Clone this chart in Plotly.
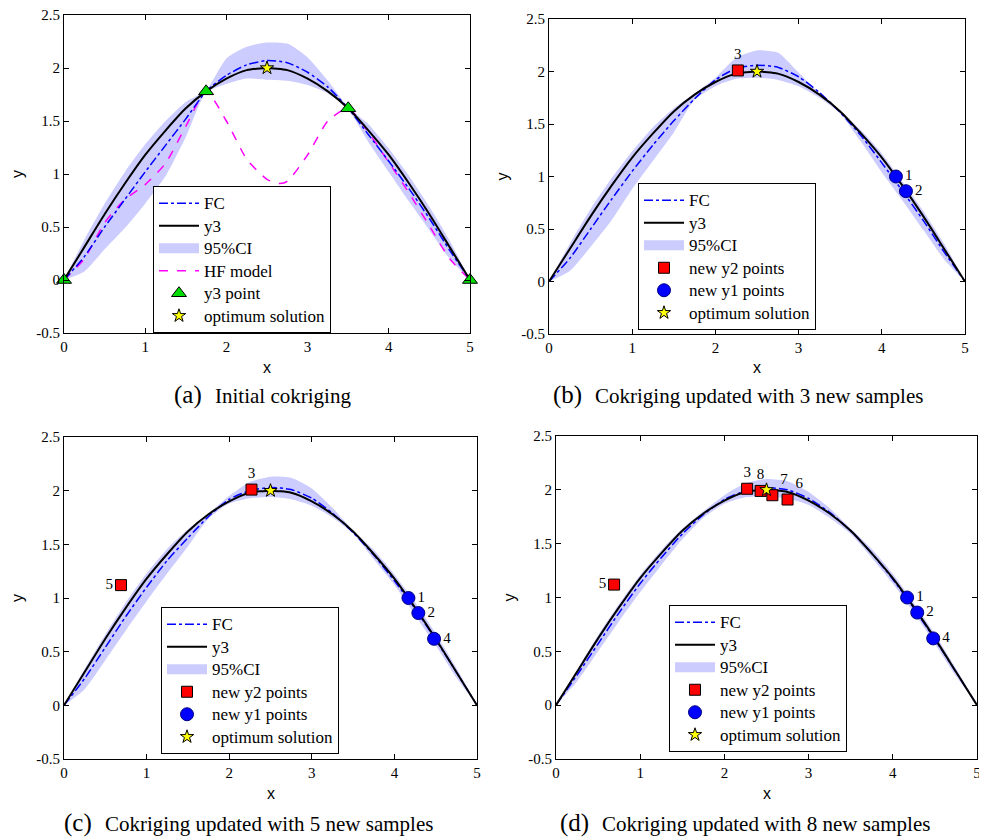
import plotly.graph_objects as go

# ---------------- data ----------------
X = [0, 0.25, 0.5, 0.75, 1.0, 1.25, 1.5, 1.75, 2.0, 2.25, 2.5, 2.75, 3.0, 3.25, 3.5, 3.75, 4.0, 4.25, 4.5, 4.75, 5.0]
Y3 = [0, 0.31, 0.62, 0.91, 1.18, 1.41, 1.62, 1.78, 1.90, 1.98, 2.00, 1.98, 1.90, 1.78, 1.62, 1.41, 1.18, 0.91, 0.62, 0.31, 0]

# panel (a)
FC_A = [0, 0.22, 0.50, 0.76, 1.02, 1.27, 1.52, 1.78, 1.93, 2.03, 2.07, 2.05, 1.96, 1.82, 1.62, 1.37, 1.12, 0.86, 0.58, 0.28, 0]
UP_A = [0, 0.38, 0.72, 1.02, 1.28, 1.50, 1.68, 1.79, 2.09, 2.20, 2.24, 2.23, 2.10, 1.88, 1.63, 1.47, 1.24, 0.98, 0.69, 0.37, 0]
LO_A = [0, 0.08, 0.29, 0.49, 0.72, 0.98, 1.35, 1.77, 1.85, 1.90, 1.89, 1.88, 1.84, 1.76, 1.61, 1.30, 1.02, 0.74, 0.47, 0.20, 0]
HF_X = [0, 0.25, 0.5, 0.75, 1.0, 1.25, 1.5, 1.75, 2.0, 2.25, 2.5, 2.65, 2.75, 3.0, 3.25, 3.5, 3.75, 4.0, 4.25, 4.5, 4.75, 5.0]
HF_A = [0, 0.20, 0.54, 0.76, 0.90, 1.10, 1.45, 1.78, 1.50, 1.14, 0.95, 0.91, 0.93, 1.18, 1.50, 1.62, 1.39, 1.11, 0.82, 0.51, 0.20, 0]
Y3PT_X = [0, 1.75, 3.5, 5]
Y3PT_Y = [0, 1.78, 1.62, 0]

# panel (b)
FC_B = [0, 0.22, 0.50, 0.78, 1.05, 1.30, 1.53, 1.74, 1.92, 2.03, 2.06, 2.04, 1.95, 1.80, 1.61, 1.39, 1.13, 0.86, 0.58, 0.28, 0]
UP_B = [0, 0.36, 0.69, 0.98, 1.24, 1.47, 1.65, 1.79, 1.94, 2.13, 2.20, 2.18, 1.99, 1.79, 1.62, 1.44, 1.22, 0.95, 0.67, 0.36, 0]
LO_B = [0, 0.10, 0.33, 0.58, 0.88, 1.15, 1.42, 1.73, 1.86, 1.93, 1.94, 1.92, 1.86, 1.75, 1.60, 1.33, 1.04, 0.77, 0.49, 0.21, 0]

# panel (c)
FC_C = [0, 0.25, 0.54, 0.83, 1.10, 1.35, 1.56, 1.76, 1.92, 2.00, 2.03, 2.01, 1.93, 1.79, 1.61, 1.40, 1.16, 0.90, 0.61, 0.31, 0]
UP_C = [0, 0.34, 0.66, 0.96, 1.23, 1.46, 1.64, 1.79, 1.95, 2.08, 2.13, 2.12, 2.02, 1.84, 1.63, 1.45, 1.22, 0.96, 0.67, 0.35, 0]
LO_C = [0, 0.15, 0.42, 0.70, 0.97, 1.23, 1.48, 1.74, 1.88, 1.93, 1.94, 1.92, 1.86, 1.75, 1.60, 1.36, 1.12, 0.84, 0.56, 0.26, 0]

# panel (d)
FC_D = [0, 0.28, 0.57, 0.86, 1.13, 1.37, 1.59, 1.77, 1.91, 1.99, 2.02, 2.00, 1.92, 1.79, 1.62, 1.41, 1.17, 0.90, 0.61, 0.31, 0]
UP_D = [0, 0.33, 0.65, 0.94, 1.21, 1.44, 1.64, 1.80, 1.95, 2.06, 2.10, 2.08, 1.98, 1.83, 1.64, 1.45, 1.22, 0.95, 0.66, 0.34, 0]
LO_D = [0, 0.22, 0.50, 0.78, 1.05, 1.30, 1.54, 1.74, 1.87, 1.93, 1.94, 1.92, 1.86, 1.74, 1.59, 1.37, 1.13, 0.86, 0.57, 0.27, 0]

# new sample points
Y2_X_B, Y2_Y_B, Y2_T_B = [2.27], [2.01], ["3"]
Y1_X_B, Y1_Y_B, Y1_T_B = [4.17, 4.29], [1.00, 0.86], ["1", "2"]
Y2_X_C, Y2_Y_C, Y2_T_C = [2.27, 0.69], [2.01, 1.12], ["3", "5"]
Y1_X_C, Y1_Y_C, Y1_T_C = [4.17, 4.29, 4.48], [1.00, 0.86, 0.62], ["1", "2", "4"]
Y2_X_D, Y2_Y_D, Y2_T_D = [2.27, 0.69, 2.75, 2.57, 2.43], [2.01, 1.12, 1.91, 1.95, 1.99], ["3", "5", "6", "7", "8"]
Y1_X_D, Y1_Y_D, Y1_T_D = [4.17, 4.29, 4.48], [1.00, 0.86, 0.62], ["1", "2", "4"]
OPT_X, OPT_Y = [2.5], [2.0]

X_TICKS = [0, 1, 2, 3, 4, 5]
Y_TICKS = [-0.5, 0, 0.5, 1, 1.5, 2, 2.5]
Y_TICKTEXT = ["-0.5", "0", "0.5", "1", "1.5", "2", "2.5"]

SUBTITLES = [("(a)", "Initial cokriging"),
             ("(b)", "Cokriging updated with 3 new samples"),
             ("(c)", "Cokriging updated with 5 new samples"),
             ("(d)", "Cokriging updated with 8 new samples")]

# ---------------- layout geometry (screen pixels of the 987x839 window) ----------------
OFF = 8                      # default page body margin
W, H = 987 - OFF, 839 - OFF  # figure size so that it fills the window
BOXES = [(64, 470, 15, 333), (549, 965, 19, 334), (64, 477, 437, 759), (556, 977, 436, 759)]
LEGPOS = [(153, 186), (638, 183), (161, 607), (669, 605)]
SUB_Y = [395, 395, 823, 823]
SUB_TEXT_X = [213, 593, 103, 600]


def fx(px):
    return (px - OFF) / W


def fy(py):
    return 1 - (py - OFF) / H


SERIF = "Liberation Serif, Times New Roman, DejaVu Serif, serif"
SANS = "Liberation Sans, Arial, sans-serif"
CI_COLOR = "rgb(204,204,255)"


def big(name):
    return '<span style="font-size:17px">' + name + '</span>'


def label_pos(t):
    return {"1": "middle right", "2": "middle right", "4": "middle right", "3": "top center",
            "8": "top center", "7": "top right", "6": "top right", "5": "middle left"}[t]


fig = go.Figure()

panels = [
    dict(fc=FC_A, up=UP_A, lo=LO_A),
    dict(fc=FC_B, up=UP_B, lo=LO_B, y2=(Y2_X_B, Y2_Y_B, Y2_T_B), y1=(Y1_X_B, Y1_Y_B, Y1_T_B)),
    dict(fc=FC_C, up=UP_C, lo=LO_C, y2=(Y2_X_C, Y2_Y_C, Y2_T_C), y1=(Y1_X_C, Y1_Y_C, Y1_T_C)),
    dict(fc=FC_D, up=UP_D, lo=LO_D, y2=(Y2_X_D, Y2_Y_D, Y2_T_D), y1=(Y1_X_D, Y1_Y_D, Y1_T_D)),
]

for i, p in enumerate(panels):
    sfx = "" if i == 0 else str(i + 1)
    xa, ya = "x" + sfx, "y" + sfx
    leg = "legend" + sfx
    sp = dict(shape="spline", smoothing=0.6)
    fig.add_trace(go.Scatter(x=X, y=p["lo"], xaxis=xa, yaxis=ya, mode="lines",
                             line=dict(width=0, color=CI_COLOR, **sp), showlegend=False,
                             hoverinfo="skip", legend=leg))
    fig.add_trace(go.Scatter(x=X, y=p["up"], xaxis=xa, yaxis=ya, mode="lines", fill="tonexty",
                             fillcolor=CI_COLOR, line=dict(width=0, color=CI_COLOR, **sp),
                             showlegend=False, hoverinfo="skip", legend=leg))
    # legend swatch for the band
    fig.add_trace(go.Scatter(x=[None], y=[None], xaxis=xa, yaxis=ya, mode="lines",
                             line=dict(width=18, color=CI_COLOR),
                             name=big("95%CI"), legend=leg, legendrank=3))
    if i == 0:
        fig.add_trace(go.Scatter(x=HF_X, y=HF_A, xaxis=xa, yaxis=ya, mode="lines",
                                 line=dict(color="#FF00FF", width=1.5, dash="dash", **sp),
                                 name=big("HF model"), legend=leg, legendrank=4))
    fig.add_trace(go.Scatter(x=X, y=p["fc"], xaxis=xa, yaxis=ya, mode="lines",
                             line=dict(color="#0000FF", width=1.5, dash="dashdot", **sp),
                             name=big("FC"), legend=leg, legendrank=1))
    fig.add_trace(go.Scatter(x=X, y=Y3, xaxis=xa, yaxis=ya, mode="lines",
                             line=dict(color="black", width=2, **sp), name=big("y3"),
                             legend=leg, legendrank=2))
    if i == 0:
        fig.add_trace(go.Scatter(x=Y3PT_X, y=Y3PT_Y, xaxis=xa, yaxis=ya, mode="markers",
                                 marker=dict(symbol="triangle-up", size=13, color="#00DD00",
                                             line=dict(color="black", width=1)),
                                 name=big("y3 point"), legend=leg, legendrank=5, cliponaxis=False))
    else:
        x2, y2, t2 = p["y2"]
        fig.add_trace(go.Scatter(x=x2, y=y2, xaxis=xa, yaxis=ya, mode="markers+text",
                                 marker=dict(symbol="square", size=11, color="#FF0000",
                                             line=dict(color="black", width=1)),
                                 text=t2, textposition=[label_pos(t) for t in t2],
                                 textfont=dict(family=SERIF, size=15, color="black"),
                                 name=big("new y2 points"), legend=leg, legendrank=5, cliponaxis=False))
        x1, y1, t1 = p["y1"]
        fig.add_trace(go.Scatter(x=x1, y=y1, xaxis=xa, yaxis=ya, mode="markers+text",
                                 marker=dict(symbol="circle", size=13, color="#0000FF",
                                             line=dict(color="#000080", width=1)),
                                 text=t1, textposition=[label_pos(t) for t in t1],
                                 textfont=dict(family=SERIF, size=15, color="black"),
                                 name=big("new y1 points"), legend=leg, legendrank=6, cliponaxis=False))
    fig.add_trace(go.Scatter(x=OPT_X, y=OPT_Y, xaxis=xa, yaxis=ya, mode="markers",
                             marker=dict(symbol="star", size=10, color="#FFFF00",
                                         line=dict(color="black", width=1)),
                             name=big("optimum solution"), legend=leg, legendrank=7, cliponaxis=False))

layout = dict(width=W, height=H, margin=dict(l=0, r=0, t=0, b=0, autoexpand=False),
              paper_bgcolor="white", plot_bgcolor="white", showlegend=True,
              hovermode=False, font=dict(family=SERIF, size=15, color="black"))

annotations = []
for i, (l, r, t, b) in enumerate(BOXES):
    sfx = "" if i == 0 else str(i + 1)
    axis_common = dict(showgrid=False, zeroline=False, showline=True, linecolor="black", linewidth=1,
                       mirror="ticks", ticks="inside", ticklen=5, tickcolor="black", automargin=False,
                       ticklabeloverflow="allow",
                       tickfont=dict(family=SERIF, size=15, color="black"))
    layout["xaxis" + sfx] = dict(domain=[fx(l), fx(r)], range=[0, 5], anchor="y" + sfx,
                                 tickvals=X_TICKS, **axis_common)
    layout["yaxis" + sfx] = dict(domain=[fy(b), fy(t)], range=[-0.5, 2.5], anchor="x" + sfx,
                                 tickvals=Y_TICKS, ticktext=Y_TICKTEXT, **axis_common)
    lx, ly = LEGPOS[i]
    layout["legend" + sfx] = dict(x=fx(lx), y=fy(ly), xanchor="left", yanchor="top",
                                  bordercolor="black", borderwidth=1, bgcolor="white",
                                  font=dict(family=SERIF, size=15, color="black"),
                                  itemwidth=40, traceorder="normal")
    cx = (l + r) / 2
    annotations.append(dict(x=fx(cx), y=fy(b + 34), xref="paper", yref="paper", text="x",
                            xanchor="center", yanchor="middle",
                            showarrow=False, font=dict(family=SANS, size=16, color="black")))
    annotations.append(dict(x=fx(l - 47), y=fy((t + b) / 2), xref="paper", yref="paper", text="y",
                            xanchor="center", yanchor="middle",
                            textangle=-90, showarrow=False, font=dict(family=SANS, size=16, color="black")))
    letter, rest = SUBTITLES[i]
    tx = SUB_TEXT_X[i]
    annotations.append(dict(x=fx(tx - 9), y=fy(SUB_Y[i]), xref="paper", yref="paper",
                            text=letter, xanchor="right", yanchor="middle",
                            showarrow=False, font=dict(family=SERIF, size=25, color="black")))
    annotations.append(dict(x=fx(tx), y=fy(SUB_Y[i] + 1), xref="paper", yref="paper",
                            text=rest, xanchor="left", yanchor="middle",
                            showarrow=False, font=dict(family=SERIF, size=21, color="black")))
layout["annotations"] = annotations

fig.update_layout(**layout)
fig.write_html("out.html")
